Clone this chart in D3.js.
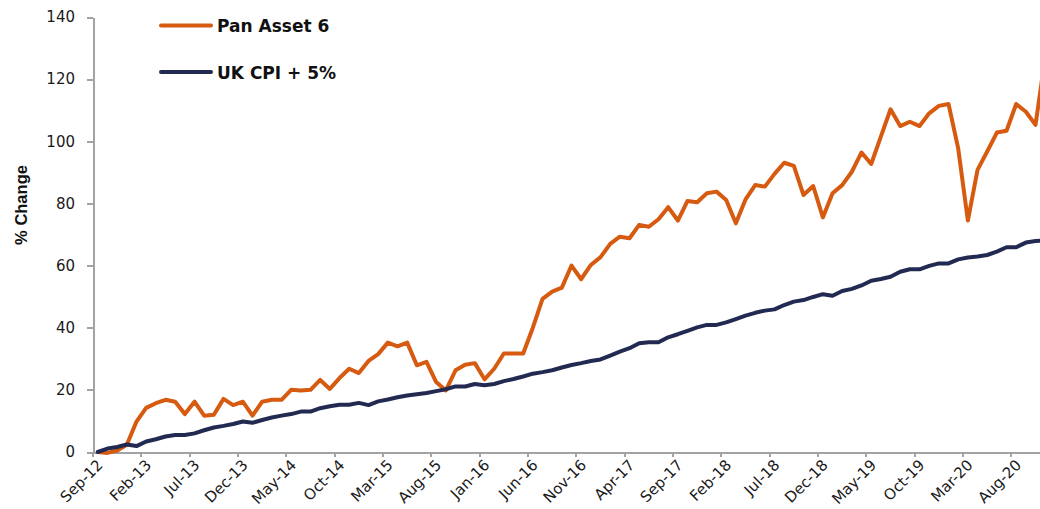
<!DOCTYPE html>
<html lang="en">
<head>
<meta charset="UTF-8">
<title>Pan Asset 6 vs UK CPI + 5%</title>
<script src="https://cdn.jsdelivr.net/npm/d3@7"></script>
<style>
    body{margin:0;background:#fff;}
    svg{display:block;}
    .axis path,.axis line{stroke:#a3a3a3;stroke-width:2;shape-rendering:crispEdges;}
    .axis text{font-family:"DejaVu Sans",Verdana,sans-serif;font-size:15px;fill:#1a1a1a;}
    .legend text{font-family:"DejaVu Sans",Verdana,sans-serif;font-size:17px;font-weight:bold;fill:#111;}
</style>
</head>
<body>
<div id="root"></div>
<script>
    // month labels, Sep-12 .. Nov-20
    let monthNames = ["Jan","Feb","Mar","Apr","May","Jun","Jul","Aug","Sep","Oct","Nov","Dec"]
    let months = []
    for (let k = 0; k < 99; k++) {
        let m = (8 + k) % 12, yr = 12 + Math.floor((8 + k) / 12)
        months.push(monthNames[m] + "-" + yr)
    }

    let panAsset = [0,-0.3,0.5,2.3,9.8,14.2,15.7,16.8,16.2,12.2,
        16.2,11.7,12,17.1,15.1,16.2,11.7,16.2,16.8,16.8,
        20,19.8,20,23.2,20.3,23.8,26.8,25.4,29.3,31.5,
        35.2,34,35.2,27.9,29,22.5,19.8,26.3,28.1,28.6,
        23.4,26.8,31.7,31.7,31.7,40,49.3,51.6,52.9,60,
        55.6,60.2,62.7,67,69.3,68.8,73.1,72.5,74.9,78.8,
        74.5,80.8,80.4,83.3,83.8,81.1,73.6,81.3,85.9,85.4,
        89.5,93.1,92.1,82.7,85.6,75.5,83.3,85.9,90.2,96.4,
        92.7,101.5,110.3,104.9,106.3,104.9,109,111.4,112,97.7,
        74.5,90.8,96.7,102.8,103.4,112,109.5,105.3,127]

    let ukCpi = [0,1.1,1.6,2.4,1.9,3.4,4.1,5,5.5,5.5,
        6,7,7.9,8.4,9,9.8,9.4,10.3,11.1,11.7,
        12.2,13,13,14.1,14.7,15.2,15.2,15.8,15.1,16.3,
        16.9,17.6,18.2,18.6,19,19.6,20.2,21.1,21.1,21.9,
        21.5,21.9,22.8,23.5,24.3,25.2,25.7,26.3,27.2,28,
        28.6,29.3,29.8,31,32.3,33.4,35,35.3,35.3,36.9,
        37.9,39,40.1,40.9,40.9,41.7,42.8,43.9,44.8,45.5,
        45.9,47.3,48.4,48.9,49.9,50.8,50.3,51.8,52.5,53.6,
        55.1,55.7,56.4,58,58.8,58.8,59.9,60.7,60.7,62,
        62.6,62.9,63.4,64.5,65.9,65.9,67.4,67.9,68.1]

    let yTicks = [0,20,40,60,80,100,120,140]
    let seriesNames = ["Pan Asset 6", "UK CPI + 5%"]
    let colors = ["#d65a10", "#232a52"]

    let width = 1040, height = 509
    let plotLeft = 93, plotTop = 17, plotBottom = 452, step = 9.667

    let svg = d3.select("#root").append("svg").attr("width", width).attr("height", height)

    let x = d3.scaleBand().domain(months).range([plotLeft, plotLeft + step * months.length]).padding(0)
    let bw = x.bandwidth()
    let y = d3.scaleLinear().domain([0, 140]).range([plotBottom, plotTop])

    // y axis
    let yAxis = d3.axisLeft(y).tickValues(yTicks).tickSize(6).tickSizeOuter(0).tickPadding(12)
    svg.append("g").attr("class", "axis y-axis").attr("transform", "translate(" + plotLeft + ",0)").call(yAxis)

    // x axis, ticks on category boundaries every 5 months
    let xAxis = d3.axisBottom(x).tickValues(months.filter((d, i) => i % 5 == 0)).tickSize(5).tickSizeOuter(0)
    let gx = svg.append("g").attr("class", "axis x-axis").attr("transform", "translate(0," + plotBottom + ")").call(xAxis)
    gx.selectAll(".tick line").attr("x1", -bw / 2).attr("x2", -bw / 2)
    gx.selectAll(".tick text")
        .attr("y", 0).attr("dy", 0)
        .attr("text-anchor", "end")
        .attr("transform", "translate(6,14) rotate(-45)")

    // y title
    svg.append("text")
        .attr("transform", "translate(27,205) rotate(-90)")
        .attr("text-anchor", "middle")
        .style("font-family", "'Liberation Sans',Arial,sans-serif")
        .style("font-size", "16.5px").style("font-weight", "bold").style("fill", "#111")
        .text("% Change")

    let line = d3.line().x((d, i) => x(months[i]) + bw / 2).y(d => y(d))

    ;[panAsset, ukCpi].forEach(function (s, k) {
        svg.append("path").datum(s)
            .attr("fill", "none").attr("stroke", colors[k]).attr("stroke-width", 4)
            .attr("stroke-linejoin", "round").attr("stroke-linecap", "round")
            .attr("d", line)
    })

    // legend
    let lg = svg.append("g").attr("class", "legend")
    seriesNames.forEach(function (n, k) {
        let ly = 25.5 + k * 46.5
        lg.append("line").attr("x1", 161).attr("x2", 211).attr("y1", ly).attr("y2", ly)
            .attr("stroke", colors[k]).attr("stroke-width", 4).attr("stroke-linecap", "round")
        lg.append("text").attr("x", 217).attr("y", ly + 6.5).text(n)
    })
</script>
</body>
</html>
